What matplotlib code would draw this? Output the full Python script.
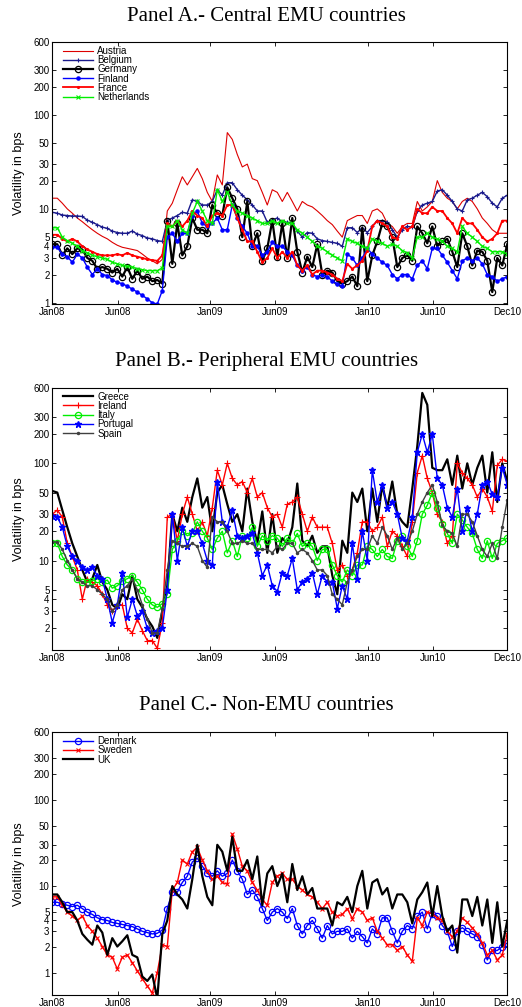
import numpy as np
import pandas as pd
import matplotlib
matplotlib.use('Agg')
import matplotlib.pyplot as plt
from matplotlib.ticker import NullLocator

# ---------------- data ----------------
dates = pd.date_range('2008-01-01', '2010-11-20', periods=92)

xtick_dates = pd.to_datetime(['2008-01-01', '2008-06-01', '2009-01-01', '2009-06-01',
                              '2010-01-01', '2010-06-01', '2010-11-20'])
xtick_labels = ['Jan08', 'Jun08', 'Jan09', 'Jun09', 'Jan10', 'Jun10', 'Dec10']

yticks_A = [1, 2, 3, 4, 5, 10, 20, 30, 50, 100, 200, 300, 600]
yticks_B = [2, 3, 4, 5, 10, 20, 30, 50, 100, 200, 300, 600]
yticks_C = [1, 2, 3, 4, 5, 10, 20, 30, 50, 100, 200, 300, 600]

# Panel A
austria = [13, 13, 11.5, 10, 9, 8, 7.3, 6.6, 6, 5.5, 5.1, 4.8, 4.4, 4.1, 3.9, 3.8, 3.7, 3.6, 3.3, 3.0,
           2.8, 2.6, 2.9, 9.5, 11.5, 16, 22, 18, 22, 27, 21, 15, 12, 23, 18, 65, 55, 38, 28, 30,
           21, 20, 15, 11, 16, 15, 12, 15, 12, 9.5, 12, 11, 10.5, 9.5, 8.5, 7.5, 6.8, 5.8, 5.0, 7.5,
           8, 8.5, 8.5, 7, 9.5, 10, 9, 7, 6.5, 5.5, 6.5, 7, 7, 12, 9.5, 10.5, 12, 20, 15, 13,
           12, 10, 12, 13, 12, 10, 8, 7, 6, 5.5, 5.5, 5.5]
belgium = [9.2, 9.0, 8.6, 8.5, 8.4, 8.4, 8.3, 7.6, 7.2, 6.8, 6.4, 6.2, 5.8, 5.6, 5.5, 5.5, 5.8, 5.4, 5.2, 4.9,
           4.8, 4.6, 4.5, 7.5, 8.0, 8.5, 9.2, 9.0, 12.5, 12, 11, 11, 12, 16, 14, 19, 19, 16, 14, 12.5,
           11, 9.5, 9.5, 7.2, 7.6, 8.0, 7.2, 7.2, 7.0, 5.8, 5.0, 5.6, 5.5, 4.8, 4.6, 4.5, 4.4, 4.3, 4.0, 6.3,
           6.3, 5.6, 6.3, 5.6, 6.5, 7.5, 7.5, 7.2, 6.0, 5.0, 6.0, 6.5, 6.4, 9.5, 11, 11.5, 12, 15.5, 16, 14,
           12, 10, 9.5, 12.5, 13, 14, 15, 13.5, 11.5, 10.5, 13, 14]
germany = [4.2, 4.2, 3.2, 3.8, 3.3, 3.8, 3.7, 3.0, 2.8, 2.3, 2.4, 2.3, 2.1, 2.3, 1.9, 2.4, 1.8, 2.2, 1.8, 1.9,
           1.7, 1.75, 1.6, 7.5, 2.6, 7.0, 3.2, 4.0, 8.0, 6.0, 6.0, 5.5, 11, 9, 8.5, 17, 13, 10, 5.0, 12,
           4.0, 5.5, 2.8, 3.8, 7.5, 3.1, 7.0, 3.0, 8.0, 3.5, 2.1, 3.1, 2.4, 4.2, 2.0, 2.2, 2.1, 1.7, 1.6, 1.7,
           1.9, 1.5, 6.3, 1.7, 3.2, 4.5, 7.0, 6.5, 5.0, 2.4, 3.0, 3.2, 2.8, 6.5, 5.5, 4.3, 6.5, 4.0, 4.5, 4.8,
           3.5, 2.4, 5.5, 4.0, 2.5, 3.6, 3.5, 2.8, 1.3, 3.0, 2.5, 4.2]
finland = [3.9, 3.9, 3.3, 3.1, 2.7, 3.3, 3.0, 2.4, 2.0, 2.3, 2.0, 1.95, 1.75, 1.65, 1.6, 1.5, 1.4, 1.3, 1.2, 1.1,
           1.0, 0.97, 1.35, 5.0, 5.5, 4.5, 5.5, 5.5, 8.5, 9.5, 7.0, 6.5, 7.0, 8.0, 6.0, 6.0, 11, 8, 6.5, 5.5,
           4.0, 4.0, 3.2, 3.5, 4.4, 4.0, 4.0, 3.5, 3.2, 2.5, 2.2, 2.4, 2.0, 1.9, 2.0, 1.9, 1.7, 1.6, 1.5, 3.3,
           3.0, 2.5, 3.0, 3.8, 3.3, 3.0, 2.7, 2.5, 2.0, 1.8, 2.0, 2.0, 1.8, 2.5, 2.8, 2.3, 3.8, 3.8, 3.2, 2.7,
           2.2, 1.8, 2.8, 3.0, 2.8, 3.0, 2.6, 2.0, 1.9, 1.7, 1.8, 1.9]
france = [5.3, 5.3, 4.8, 4.5, 4.8, 4.5, 4.0, 3.7, 3.5, 3.3, 3.2, 3.2, 3.2, 3.3, 3.2, 3.4, 3.2, 3.1, 3.0, 2.9,
          2.85, 2.8, 3.2, 7.0, 6.5, 7.5, 6.5, 7.5, 9.5, 8.5, 8.0, 6.5, 8.5, 9.0, 8.5, 11, 11, 8, 6, 4.5,
          4.5, 3.5, 2.7, 3.0, 3.8, 3.0, 3.5, 3.0, 3.5, 2.5, 2.2, 2.5, 2.0, 2.2, 2.2, 2.1, 2.0, 1.8, 1.7, 2.6,
          2.3, 2.5, 2.8, 3.6, 6.5, 7.5, 7.0, 6.5, 5.0, 4.8, 6.5, 6.0, 6.5, 10, 9, 9, 10.5, 9.5, 9.5, 8,
          7, 5.5, 8, 7, 7, 6, 5, 4.5, 4.8, 5.5, 7.5, 7.5]
netherlands = [6.3, 6.3, 5.0, 4.6, 4.3, 4.0, 3.6, 3.4, 3.2, 3.1, 3.0, 2.9, 2.7, 2.6, 2.5, 2.45, 2.4, 2.3, 2.25, 2.2,
               2.2, 2.2, 2.35, 6.5, 6.5, 7.5, 6.0, 5.5, 9, 12, 9.5, 7.5, 7, 16, 12, 15, 11, 9.5, 9, 8.5,
               8, 7.5, 7, 7, 7.5, 7, 7.5, 7, 7, 6, 5.5, 5.0, 4.5, 4.0, 3.8, 3.5, 3.2, 3.0, 2.8, 4.8,
               4.5, 4.3, 4.0, 3.8, 4.8, 4.5, 4.3, 4.0, 4.2, 4.0, 3.6, 3.4, 3.0, 5.0, 5.0, 5.5, 5.0, 4.8, 4.5, 4.0,
               3.8, 3.5, 6.5, 5.5, 5.0, 4.5, 4.0, 3.8, 3.5, 3.5, 3.5, 3.3]

# Panel B
greece = [52, 50, 33, 22, 15, 11, 8, 6, 6.5, 9, 6, 5, 3.5, 3.2, 4.5, 4.0, 7, 4.0, 3.3, 2.5,
          2.1, 1.6, 3.0, 5.5, 30, 20, 35, 25, 45, 70, 35, 45, 20, 50, 60, 38, 25, 30, 20, 55,
          25, 15, 32, 12, 30, 12, 17, 15, 22, 62, 16, 14, 18, 12, 14, 14, 7, 4.5, 16, 12,
          50, 40, 55, 20, 55, 25, 60, 35, 65, 30, 25, 22, 55, 150, 530, 400, 90, 85, 85, 110,
          60, 120, 55, 100, 60, 90, 120, 50, 130, 40, 100, 65]
ireland = [30, 33, 28, 15, 11, 8, 4, 6.5, 6, 5.5, 4.5, 3.5, 3.0, 3.5, 3.5, 2.0, 1.8, 2.5, 1.9, 1.5,
           1.5, 1.25, 2.3, 28, 30, 16, 30, 45, 30, 20, 25, 18, 35, 85, 60, 100, 70, 60, 65, 50,
           70, 45, 50, 35, 28, 30, 22, 38, 40, 45, 30, 20, 28, 22, 22, 22, 15, 8, 9, 7,
           8, 12, 25, 25, 20, 22, 28, 14, 20, 18, 14, 11, 25, 80, 120, 70, 50, 30, 25, 15,
           18, 100, 80, 70, 60, 45, 55, 45, 32, 95, 110, 105]
italy = [15, 15, 11, 9, 8, 6.5, 6, 6, 6.2, 6.5, 6, 6.3, 5.2, 5.5, 6.2, 6.5, 7, 6, 5, 4,
         3.5, 3.3, 3.6, 4.5, 13, 16, 20, 18, 19, 25, 20, 17, 13, 17, 20, 12, 16, 11, 18, 17,
         22, 14, 18, 16, 18, 17, 14, 17, 15, 19, 14, 15, 14, 10, 13, 13, 9, 7, 6, 8,
         7, 9, 9, 14, 13, 11, 13, 11, 10.5, 16, 18, 14, 11, 16, 30, 37, 50, 35, 24, 19,
         15, 30, 26, 22, 19, 13, 10.5, 16, 10.5, 15, 16, 17]
portugal = [29, 28, 22, 14, 11, 10, 8.5, 8, 8.5, 7, 6.5, 4, 2.3, 3.5, 7.5, 2.6, 4, 2.7, 3.0, 2.0,
            1.8, 1.9, 2.0, 5.0, 30, 10, 22, 14, 20, 20, 15, 10, 9, 65, 25, 22, 33, 18, 17, 18,
            19, 12, 7, 9, 5.5, 4.8, 7.5, 7, 10.5, 5, 6, 6.5, 7.5, 4.5, 7, 6, 6, 3.2, 5.5, 4,
            15, 6.5, 20, 10, 85, 40, 60, 35, 40, 30, 17, 16, 28, 130, 200, 130, 200, 70, 60, 35,
            28, 55, 20, 35, 20, 30, 60, 65, 48, 45, 90, 60]
spain = [15.5, 15.5, 13, 10, 8, 6.5, 6, 5.5, 5.5, 5, 4.5, 4.0, 3.0, 3.5, 5, 5.5, 6.5, 5, 3.5, 2.5,
         1.8, 1.8, 3.2, 8, 16, 15, 14, 14, 15, 14, 10, 8.5, 28, 25, 25, 20, 15, 15, 16, 15,
         15, 13, 13, 13, 12, 14, 13, 15, 15, 12, 13, 12, 10, 8, 8, 7, 4.5, 4.0, 3.5, 6,
         8, 11, 13, 13, 18, 15, 22, 18, 13, 17, 13, 15, 20, 30, 40, 50, 60, 40, 23, 20,
         19, 14, 30, 30, 25, 18, 13, 11, 15, 10.5, 22, 42]

# Panel C
denmark = [6.5, 6.5, 6.2, 6.0, 5.8, 6.0, 5.5, 5.0, 4.7, 4.3, 4.1, 4.0, 3.8, 3.7, 3.6, 3.5, 3.4, 3.2, 3.0, 2.9,
           2.8, 2.85, 3.1, 5.5, 8.5, 8.5, 11, 13, 19, 21, 17, 14, 13, 15, 13, 14, 20, 15, 12, 8,
           9, 7.5, 5.5, 4.0, 5.0, 5.5, 5.0, 4.2, 5.5, 3.5, 2.8, 3.5, 4.0, 3.2, 2.5, 3.5, 2.8, 3.0, 3.0, 3.2,
           2.5, 3.0, 2.6, 2.2, 3.2, 2.8, 4.3, 4.3, 3.0, 2.2, 3.0, 3.5, 3.2, 4.5, 5.0, 3.2, 4.8, 4.5, 3.5, 3.0,
           2.0, 3.0, 3.3, 3.0, 2.8, 2.6, 2.1, 1.4, 1.8, 1.8, 2.0, 2.2]
sweden = [7.5, 7.5, 6, 5, 4.5, 4.0, 4.5, 3.5, 3.0, 2.5, 2.0, 1.6, 1.5, 1.1, 1.5, 1.6, 1.3, 1.05, 0.85, 0.7,
          0.58, 1.0, 2.1, 2.0, 9, 11, 20, 18, 25, 28, 20, 15, 12, 13, 11, 10.5, 40, 27, 17, 15,
          11, 9, 7, 6, 11, 13, 14, 12, 12, 10, 9, 8, 7.5, 6.5, 5.5, 6.5, 5.0, 4.5, 4.7, 5.5,
          4.2, 5.5, 5.0, 4.0, 4.3, 3.0, 2.5, 2.1, 2.1, 1.8, 2.0, 1.6, 1.35, 4.3, 3.5, 5.0, 4.8, 4.3, 4.0, 3.0,
          2.6, 3.0, 4.3, 3.8, 3.3, 2.8, 2.2, 1.6, 1.8, 1.4, 1.6, 2.8]
uk = [8, 8, 6.5, 5, 5, 4, 2.8, 2.4, 2.1, 3.5, 2.9, 1.6, 2.5, 2.0, 2.3, 2.7, 1.6, 1.5, 0.9, 0.8,
      0.95, 0.5, 2.8, 4.0, 10, 8, 7, 5.5, 12, 30, 13, 7.5, 6, 30, 25, 15, 37, 15, 15, 20,
      12, 22, 6, 14, 17, 10, 14, 6.5, 18, 9, 13, 8, 9.5, 5.5, 5.5, 5.5, 3.5, 6.5, 6, 7.5,
      5, 10, 15, 5.5, 11, 12, 8, 9.5, 5.5, 8, 8, 6.5, 3.7, 7, 8.5, 11, 4.5, 10, 4.5, 3,
      3.5, 1.7, 7, 7, 4.5, 7.5, 3.5, 7, 2.2, 6.5, 2.0, 4]

# ---------------- plotting ----------------
SANS = ['Liberation Sans', 'DejaVu Sans']
NARROW = ['Liberation Sans Narrow', 'Liberation Sans', 'DejaVu Sans']
SERIF = ['Liberation Serif', 'DejaVu Serif']
plt.rcParams['font.family'] = SANS

fig = plt.figure(figsize=(5.22, 10.07), dpi=100)

panels = [
    dict(title='Panel A.- Central EMU countries', ty=0.984,
         rect=[0.1002, 0.6981, 0.8716, 0.2602], ylim=(0.97, 600), yticks=yticks_A,
         series=[
             ('Austria', austria, dict(color='#dd0000', lw=0.8)),
             ('Belgium', belgium, dict(color='#1a1a8c', lw=1.0, marker='+', ms=3.5, mew=0.8)),
             ('Germany', germany, dict(color='black', lw=1.6, marker='o', ms=4.5, mfc='none', mew=0.9)),
             ('Finland', finland, dict(color='#0000ff', lw=1.0, marker='.', ms=4.5)),
             ('France', france, dict(color='#ff0000', lw=1.3, marker='.', ms=2.5)),
             ('Netherlands', netherlands, dict(color='#00ee00', lw=1.0, marker='x', ms=2.5, mew=0.8)),
         ]),
    dict(title='Panel B.- Peripheral EMU countries', ty=0.6415,
         rect=[0.1002, 0.3545, 0.8716, 0.2605], ylim=(1.2, 600), yticks=yticks_B,
         series=[
             ('Greece', greece, dict(color='black', lw=1.6)),
             ('Ireland', ireland, dict(color='#ff0000', lw=1.0, marker='+', ms=4, mew=0.8)),
             ('Italy', italy, dict(color='#00ee00', lw=1.0, marker='o', ms=4.5, mfc='none', mew=0.9)),
             ('Portugal', portugal, dict(color='#0000ff', lw=1.0, marker='*', ms=4.5)),
             ('Spain', spain, dict(color='#404040', lw=1.0, marker='.', ms=3)),
         ]),
    dict(title='Panel C.- Non-EMU countries', ty=0.299,
         rect=[0.1002, 0.0119, 0.8716, 0.2609], ylim=(0.55, 600), yticks=yticks_C,
         series=[
             ('Denmark', denmark, dict(color='#0000ff', lw=1.0, marker='o', ms=4.5, mfc='none', mew=0.9)),
             ('Sweden', sweden, dict(color='#ff0000', lw=1.0, marker='x', ms=3, mew=0.8)),
             ('UK', uk, dict(color='black', lw=1.6)),
         ]),
]

for p in panels:
    ax = fig.add_axes(p['rect'])
    for name, vals, style in p['series']:
        ax.plot(dates, vals, label=name, **style)
    ax.set_yscale('log')
    ax.set_ylim(*p['ylim'])
    ax.set_yticks(p['yticks'])
    ax.set_yticklabels([str(v) for v in p['yticks']])
    ax.yaxis.set_minor_locator(NullLocator())
    ax.set_xlim(dates[0], dates[-1])
    ax.set_xticks(xtick_dates)
    ax.set_xticklabels(xtick_labels)
    ax.xaxis.set_minor_locator(NullLocator())
    ax.tick_params(direction='in', top=True, right=True, length=3, width=0.6,
                   labelsize=7, pad=2)
    for s in ax.spines.values():
        s.set_linewidth(0.8)
    ax.set_ylabel('Volatility in bps', fontsize=9, family=NARROW)
    ax.yaxis.set_label_coords(-0.06, 0.5)
    ax.legend(loc='upper left', bbox_to_anchor=(0.024, 0.985), frameon=False,
              borderpad=0, borderaxespad=0, labelspacing=-0.08, handlelength=3.1,
              handletextpad=0.4, fontsize=7, numpoints=1)
    fig.text(0.51, p['ty'], p['title'], ha='center', va='center',
             fontsize=15, family=SERIF)

fig.savefig('out.png', dpi=100)
